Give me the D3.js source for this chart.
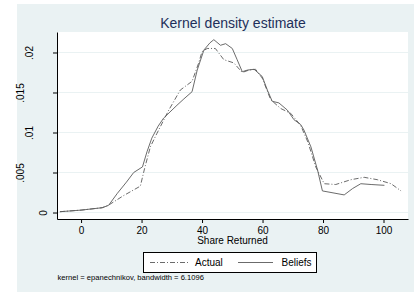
<!DOCTYPE html>
<html lang="en">
<head>
  <meta charset="UTF-8">
  <title>Kernel density estimate</title>
  <style>
    body { margin: 0; background: #fff; }
    text { font-family: 'Liberation Sans', Arial, sans-serif; }
  </style>
</head>
<body>
  <svg width="414" height="293" class="svgs"></svg>
  <script src="https://cdn.jsdelivr.net/npm/d3@7/dist/d3.min.js"></script>
  <script>
    const actualX = [-7, 0, 7, 9, 14, 19.6, 21, 22.9, 25.1, 29, 32.8, 36.7, 38.9, 40, 41.7, 44.4, 47.2, 50.5, 53.3, 55.5, 57.7, 59.9, 62.7, 66, 69.3, 72.6, 75, 77.6, 80.4, 84.2, 89.2, 93.6, 98, 102.5, 105.8]
    const actualY = [0.0001, 0.0003, 0.0006, 0.0009, 0.0021, 0.0033, 0.0055, 0.0082, 0.0099, 0.0128, 0.0153, 0.0164, 0.0187, 0.0201, 0.0205, 0.0205, 0.0191, 0.0187, 0.0175, 0.0178, 0.0179, 0.0168, 0.0141, 0.0130, 0.0124, 0.0109, 0.0088, 0.0057, 0.0036, 0.0035, 0.0041, 0.0044, 0.0041, 0.0036, 0.0027]
    const beliefsX = [-7, 0, 7, 9.1, 12, 15, 17.4, 20.3, 21.8, 23.4, 25.5, 27.3, 31.7, 34, 36.7, 38.4, 40.6, 42.6, 43.9, 46.1, 47.8, 50, 51.6, 53.3, 55, 57.2, 59.9, 61.6, 63.2, 65.4, 68.2, 70.4, 72.6, 73.7, 76, 78.2, 79.8, 87, 89.8, 92.5, 95.9, 100.3]
    const beliefsY = [0.0001, 0.0003, 0.0006, 0.0009, 0.0024, 0.0038, 0.0050, 0.0057, 0.0076, 0.0093, 0.0108, 0.0118, 0.0134, 0.0142, 0.0151, 0.0178, 0.0203, 0.0212, 0.0216, 0.0209, 0.0211, 0.0205, 0.0191, 0.0176, 0.0178, 0.0179, 0.0170, 0.0153, 0.0139, 0.0137, 0.0128, 0.0116, 0.0110, 0.0103, 0.0082, 0.0053, 0.0027, 0.0022, 0.0030, 0.0036, 0.0035, 0.0034]
    const xTicks = [0, 20, 40, 60, 80, 100]
    const yTicks = [0, 0.005, 0.01, 0.015, 0.02]
    const yTickLabels = ['0', '.005', '.01', '.015', '.02']
    const seriesNames = ['Actual', 'Beliefs']

    const svg = d3.select('.svgs')
    const plot = { left: 57, right: 408, top: 32, bottom: 219 }

    const xScale = d3.scaleLinear().domain([-7.96, 108.1]).range([plot.left, plot.right])
    const yScale = d3.scaleLinear().domain([-0.00081, 0.02256]).range([plot.bottom, plot.top])

    // graph region + plot region
    svg.append('rect').attr('x', 17).attr('y', 4).attr('width', 397).attr('height', 288).attr('fill', '#eaf2f3')
    svg.append('rect')
      .attr('x', plot.left).attr('y', plot.top)
      .attr('width', plot.right - plot.left).attr('height', plot.bottom - plot.top)
      .attr('fill', '#fff')

    // grid
    svg.append('g').selectAll('line').data(yTicks).join('line')
      .attr('x1', plot.left).attr('x2', plot.right)
      .attr('y1', d => yScale(d)).attr('y2', d => yScale(d))
      .attr('stroke', '#eaf2f3').attr('stroke-width', 1)

    // lines
    const lineColor = '#5a5a5a'
    const line = d3.line().x(d => xScale(d[0])).y(d => yScale(d[1]))
    const actual = actualX.map((x, i) => [x, actualY[i]])
    const beliefs = beliefsX.map((x, i) => [x, beliefsY[i]])
    svg.append('path').datum(beliefs).attr('d', line)
      .attr('fill', 'none').attr('stroke', lineColor).attr('stroke-width', 0.9)
    svg.append('path').datum(actual).attr('d', line)
      .attr('fill', 'none').attr('stroke', lineColor).attr('stroke-width', 0.9)
      .attr('stroke-dasharray', '5,2,1,2')

    // axes
    const xAxis = d3.axisBottom(xScale).tickValues(xTicks).tickSize(4).tickSizeOuter(0)
    const gx = svg.append('g').attr('transform', `translate(0, ${plot.bottom})`).call(xAxis)
    gx.select('.domain').attr('stroke', '#000')
    gx.selectAll('.tick line').attr('stroke', '#000')
    gx.selectAll('.tick text').attr('font-size', '10px').attr('fill', '#000')
      .attr('font-family', "'Liberation Sans', Arial, sans-serif").attr('dy', null).attr('y', 15)

    const yAxis = d3.axisLeft(yScale).tickValues(yTicks).tickSize(4).tickSizeOuter(0).tickFormat((d, i) => yTickLabels[i])
    const gy = svg.append('g').attr('transform', `translate(${plot.left}, 0)`).call(yAxis)
    gy.select('.domain').attr('stroke', '#000')
    gy.selectAll('.tick line').attr('stroke', '#000')
    gy.selectAll('.tick text')
      .attr('font-size', '10px').attr('fill', '#000')
      .attr('font-family', "'Liberation Sans', Arial, sans-serif")
      .attr('text-anchor', 'middle').attr('dy', null).attr('x', null)
      .each(function () {
        // stata shifts rotated labels left by their length
        const w = this.getComputedTextLength()
        const bx = 55.6 - 1.63 * w - plot.left
        d3.select(this).attr('transform', `translate(${bx}, 0) rotate(-90)`)
      })

    // titles
    svg.append('text').text('Kernel density estimate')
      .attr('x', 233).attr('y', 28).attr('text-anchor', 'middle')
      .attr('font-size', '14px').attr('fill', '#1e2f5a')
    svg.append('text').text('Share Returned')
      .attr('x', (plot.left + plot.right) / 2).attr('y', 244).attr('text-anchor', 'middle')
      .attr('font-size', '10px').attr('fill', '#000')

    // legend
    const legend = svg.append('g')
    legend.append('rect').attr('x', 143.5).attr('y', 252.5).attr('width', 173).attr('height', 20)
      .attr('fill', '#fff').attr('stroke', '#000').attr('stroke-width', 1)
    const items = [
      { x1: 150, x2: 190, tx: 195, dash: '5,2,1,2' },
      { x1: 238, x2: 273, tx: 281.5, dash: null }
    ]
    items.forEach((it, i) => {
      legend.append('line').attr('x1', it.x1).attr('x2', it.x2).attr('y1', 262.5).attr('y2', 262.5)
        .attr('stroke', lineColor).attr('stroke-width', 0.9).attr('stroke-dasharray', it.dash)
      legend.append('text').text(seriesNames[i]).attr('x', it.tx).attr('y', 266)
        .attr('font-size', '10px').attr('fill', '#000')
    })

    svg.append('text').text('kernel = epanechnikov, bandwidth = 6.1096')
      .attr('x', 57.5).attr('y', 280).attr('font-size', '7.6px').attr('fill', '#000')
  </script>
</body>
</html>
